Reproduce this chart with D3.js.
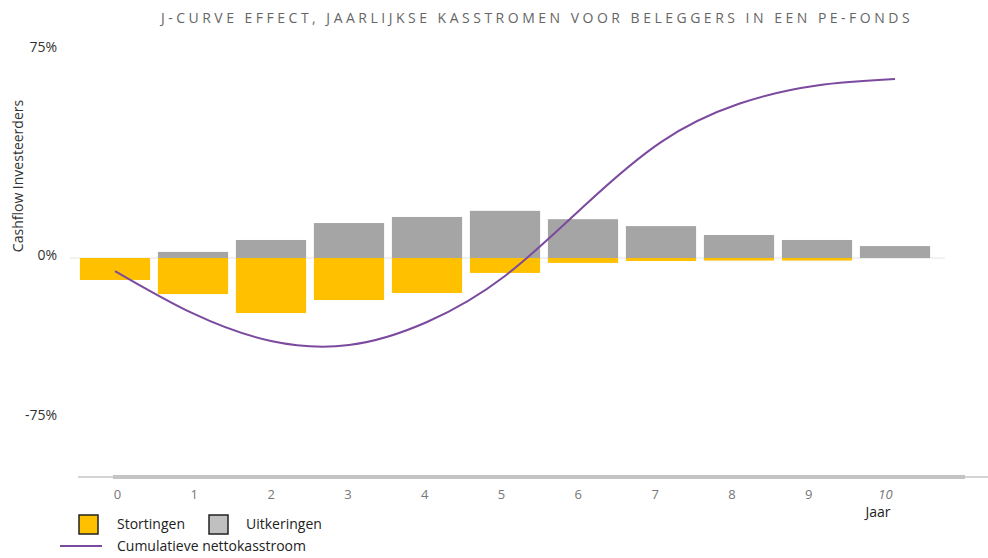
<!DOCTYPE html>
<html>
<head>
<meta charset="utf-8">
<script src="https://cdn.jsdelivr.net/npm/d3@7"></script>
<style>
  body { margin: 0; background: #fff; }
  text { font-family: "Open Sans", sans-serif; }
</style>
</head>
<body>
<div id="chart"></div>
<script>
const years = [0, 1, 2, 3, 4, 5, 6, 7, 8, 9, 10];
// stortingen (negatief) en uitkeringen (positief), in % van toezegging
const stortingen = [-10.3, -16.9, -25.8, -19.7, -16.4, -7.0, -2.3, -1.4, -1.2, -1.2, 0];
const uitkeringen = [0, 2.2, 6.5, 12.6, 14.8, 17.0, 14.0, 11.5, 8.3, 6.5, 4.3];
const cumulatief = [-6.1, -26, -38.9, -40.8, -30, -8.4, 18.4, 41.8, 55.6, 62.2, 64.5];
const yTicks = [75, 0, -75];

const width = 988, height = 558;

const svg = d3.select("#chart").append("svg")
  .attr("width", width)
  .attr("height", height);

const x = d3.scaleBand()
  .domain(years)
  .range([76, 934])
  .paddingInner(0.1)
  .paddingOuter(0.05);

// labels of the year axis sit on a slightly tighter grid
const xLabel = d3.scalePoint()
  .domain(years)
  .range([117, 885]);

// the original axis is not linear: positive half is stretched
const y = d3.scaleLinear()
  .domain([-75, 0, 75])
  .range([418, 258, 50]);

// title
svg.append("text")
  .attr("x", 537)
  .attr("y", 23)
  .attr("text-anchor", "middle")
  .attr("fill", "#666")
  .style("font-size", "14px")
  .style("letter-spacing", "3.5px")
  .text("J-CURVE EFFECT, JAARLIJKSE KASSTROMEN VOOR BELEGGERS IN EEN PE-FONDS");

// y axis labels
svg.append("g")
  .selectAll("text")
  .data(yTicks)
  .join("text")
  .attr("x", 57)
  .attr("y", (d) => y(d) - 3)
  .attr("dy", "0.35em")
  .attr("text-anchor", "end")
  .attr("fill", "#333")
  .style("font-size", "14px")
  .text((d) => d + "%");

svg.append("text")
  .attr("transform", "translate(23,176) rotate(-90)")
  .attr("text-anchor", "middle")
  .attr("fill", "#333")
  .style("font-size", "14px")
  .text("Cashflow Investeerders");

// zero line
svg.append("line")
  .attr("x1", 70)
  .attr("x2", 945)
  .attr("y1", y(0))
  .attr("y2", y(0))
  .attr("stroke", "#e4e4e4")
  .attr("stroke-width", 1);

// bars
svg.append("g")
  .selectAll("rect")
  .data(years)
  .join("rect")
  .attr("x", (d) => x(d))
  .attr("width", x.bandwidth())
  .attr("y", (d, i) => y(uitkeringen[i]))
  .attr("height", (d, i) => y(0) - y(uitkeringen[i]))
  .attr("fill", "#a5a5a5");

svg.append("g")
  .selectAll("rect")
  .data(years)
  .join("rect")
  .attr("x", (d) => x(d))
  .attr("width", x.bandwidth())
  .attr("y", y(0))
  .attr("height", (d, i) => y(stortingen[i]) - y(0))
  .attr("fill", "#ffc000");

// cumulative line
const line = d3.line()
  .x((d, i) => x(years[i]) + x.bandwidth() / 2)
  .y((d) => y(d))
  .curve(d3.curveNatural);

svg.append("path")
  .datum(cumulatief)
  .attr("d", line)
  .attr("fill", "none")
  .attr("stroke", "#7b4a9e")
  .attr("stroke-width", 2);

// bottom scroll-like rule
svg.append("line")
  .attr("x1", 78).attr("x2", 988)
  .attr("y1", 477).attr("y2", 477)
  .attr("stroke", "#d4d4d4")
  .attr("stroke-width", 2);
svg.append("line")
  .attr("x1", 113).attr("x2", 965)
  .attr("y1", 477).attr("y2", 477)
  .attr("stroke", "#c4c4c4")
  .attr("stroke-width", 4);

// x axis labels
const xAxis = d3.axisBottom(xLabel).tickSize(0).tickPadding(0);
const xg = svg.append("g")
  .attr("transform", "translate(0,490)")
  .call(xAxis);
xg.select(".domain").remove();
xg.selectAll("text")
  .attr("fill", "#777")
  .style("font-size", "13px")
  .style("font-style", (d) => (d === 10 ? "italic" : "normal"));

svg.append("text")
  .attr("x", 878)
  .attr("y", 517)
  .attr("text-anchor", "middle")
  .attr("fill", "#222")
  .style("font-size", "14px")
  .text("Jaar");

// legend
const legend = svg.append("g");
legend.append("rect")
  .attr("x", 79).attr("y", 515)
  .attr("width", 19).attr("height", 19)
  .attr("fill", "#ffc000")
  .attr("stroke", "#222")
  .attr("stroke-width", 1.5);
legend.append("text")
  .attr("x", 117).attr("y", 529)
  .attr("fill", "#222")
  .style("font-size", "14px")
  .text("Stortingen");
legend.append("rect")
  .attr("x", 209).attr("y", 515)
  .attr("width", 19).attr("height", 19)
  .attr("fill", "#c0c0c0")
  .attr("stroke", "#222")
  .attr("stroke-width", 1.5);
legend.append("text")
  .attr("x", 246).attr("y", 529)
  .attr("fill", "#222")
  .style("font-size", "14px")
  .text("Uitkeringen");
legend.append("line")
  .attr("x1", 60).attr("x2", 102)
  .attr("y1", 546).attr("y2", 546)
  .attr("stroke", "#7b4a9e")
  .attr("stroke-width", 2);
legend.append("text")
  .attr("x", 117).attr("y", 551)
  .attr("fill", "#222")
  .style("font-size", "14px")
  .text("Cumulatieve nettokasstroom");
</script>
</body>
</html>
